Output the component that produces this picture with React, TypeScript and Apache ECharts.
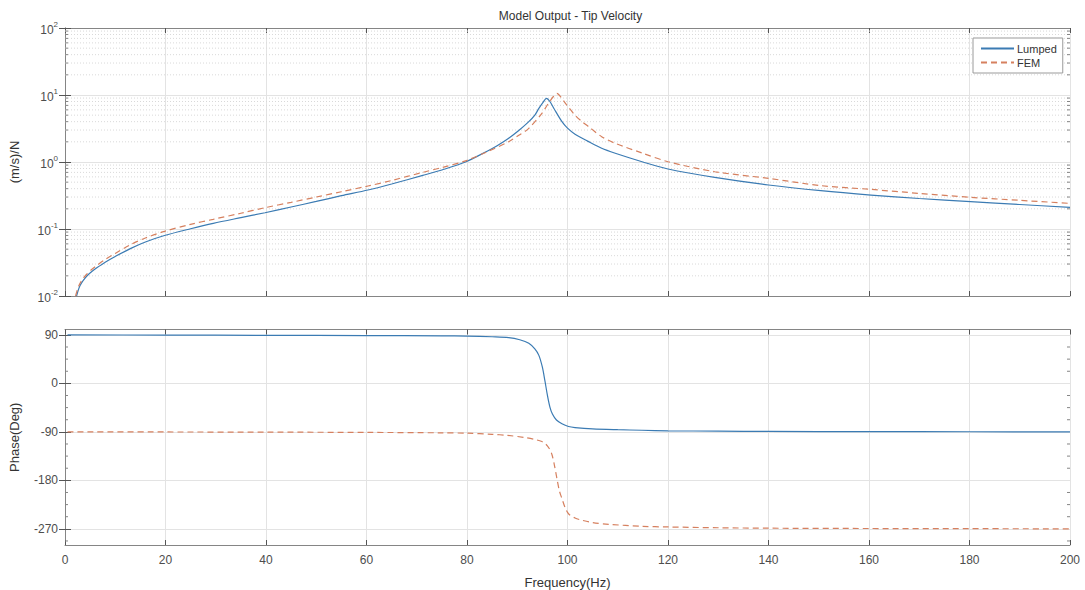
import React, { useEffect, useRef } from "react";
import * as echarts from "echarts";

// ---- Data ----
const lumpedMagFreq = [2.3, 2.6, 3.0, 3.6, 4.5, 5.4, 6.4, 8, 10, 13, 16, 19.8, 25, 29.5, 35, 39.8, 45, 50, 55, 60.3, 65, 71.2, 75, 79.7, 84, 86, 88.3, 90.3, 92.3, 93.5, 94.3, 95.2, 95.8, 96.5, 97.3, 98.9, 100, 101.5, 104, 106.8, 109.5, 115, 120, 129.3, 140, 150.4, 160.4, 170, 180.2, 190, 200];
const lumpedMag = [0.010, 0.012, 0.0143, 0.017, 0.0204, 0.0234, 0.0266, 0.032, 0.0389, 0.051, 0.064, 0.080, 0.101, 0.1216, 0.148, 0.175, 0.213, 0.258, 0.314, 0.382, 0.47, 0.63, 0.76, 1.0, 1.45, 1.75, 2.26, 2.95, 4.0, 5.0, 6.3, 7.9, 8.9, 8.0, 6.3, 4.0, 3.2, 2.6, 2.05, 1.6, 1.35, 1.0, 0.787, 0.59, 0.454, 0.373, 0.321, 0.285, 0.256, 0.232, 0.21];

const femMagFreq = [2.1, 2.4, 2.8, 3.4, 4.3, 5.3, 6.4, 8, 10, 13, 16, 19.8, 25, 29.5, 35, 39.8, 45, 50, 55, 60.3, 65, 71.2, 75.1, 79.7, 84, 88.3, 90.3, 92.3, 94.9, 96.2, 97.2, 97.9, 98.7, 99.6, 101.5, 102.9, 104.2, 106.8, 109.5, 115, 120, 129.3, 140, 150.4, 160.4, 170, 180.2, 190, 200];
const femMag = [0.010, 0.012, 0.0145, 0.0174, 0.0211, 0.0248, 0.0288, 0.0351, 0.0432, 0.0582, 0.0733, 0.0923, 0.1175, 0.1396, 0.172, 0.208, 0.25, 0.30, 0.36, 0.438, 0.53, 0.70, 0.83, 1.04, 1.42, 2.01, 2.5, 3.18, 5.33, 7.5, 9.5, 10.6, 9.3, 7.5, 5.0, 4.0, 3.37, 2.39, 1.9, 1.35, 1.01, 0.716, 0.57, 0.444, 0.39, 0.34, 0.297, 0.268, 0.241];

const lumpedPhaseFreq = [0.5, 20, 40, 60, 75, 80, 85, 88.3, 90.5, 92.3, 93.5, 94.3, 95.0, 95.5, 96.0, 96.5, 97.0, 97.8, 98.9, 100.2, 101.5, 105, 110, 114.8, 120, 130, 140, 160, 180, 200];
const lumpedPhase = [90, 89.6, 89.2, 88.8, 88.2, 87.8, 86.5, 85, 81, 74.5, 64, 52, 30, 5, -22, -44, -57, -68, -75, -80, -82, -84.5, -86, -87, -88, -88.7, -89.2, -89.6, -89.8, -90];

const femPhaseFreq = [0.5, 20, 40, 60, 75, 80, 85, 88, 91.6, 93.5, 94.9, 95.6, 96.3, 96.9, 97.4, 97.9, 98.4, 98.9, 99.5, 100.2, 101.5, 102.9, 105, 108.2, 114.8, 120, 130, 140, 160, 180, 200];
const femPhase = [-90, -90.2, -90.5, -91, -91.8, -92.5, -94.5, -96.5, -100.6, -104, -108, -112, -120, -132, -152, -177, -200, -214, -230, -242, -250, -254, -258.5, -261.6, -265.3, -266.5, -268, -268.8, -269.4, -269.7, -270];

const magMinorTicks = [0.02, 0.03, 0.04, 0.05, 0.06, 0.07, 0.08, 0.09, 0.2, 0.3, 0.4, 0.5, 0.6, 0.7, 0.8, 0.9, 2, 3, 4, 5, 6, 7, 8, 9, 20, 30, 40, 50, 60, 70, 80, 90];
const phaseTicks = [-270, -180, -90, 0, 90];
const phaseMinorTicks = [67.5, 45, 22.5, -22.5, -45, -67.5, -112.5, -135, -157.5, -202.5, -225, -247.5, -292.5];

const seriesNames = ["Lumped", "FEM"];

const zip = (xs: number[], ys: number[]) => xs.map((x, i) => [x, ys[i]]);

const FONT = "Liberation Sans, Arial, sans-serif";
const AXIS_COLOR = "#858585";
const LABEL_COLOR = "#4d4d4d";
const GRID_COLOR = "#e3e3e3";
const MINOR_GRID = "#d9d9d9";
const BLUE = "#3b7bb3";
const ORANGE = "#d6805f";

export default function App() {
  const ref = useRef<HTMLDivElement>(null);

  useEffect(() => {
    if (!ref.current) return;
    const chart = echarts.init(ref.current, undefined, { renderer: "svg" });

    const minorRender = (drawGrid: boolean) => (params: any, api: any) => {
      const cs = params.coordSys;
      const y = api.coord([0, api.value(1)])[1];
      const children: any[] = [];
      if (drawGrid) {
        children.push({
          type: "line",
          shape: { x1: cs.x, y1: y, x2: cs.x + cs.width, y2: y },
          style: { stroke: MINOR_GRID, lineWidth: 1, lineDash: [1, 2] },
        });
      }
      children.push({
        type: "line",
        shape: { x1: cs.x, y1: y, x2: cs.x + 3, y2: y },
        style: { stroke: AXIS_COLOR, lineWidth: 1 },
      });
      children.push({
        type: "line",
        shape: { x1: cs.x + cs.width - 3, y1: y, x2: cs.x + cs.width, y2: y },
        style: { stroke: AXIS_COLOR, lineWidth: 1 },
      });
      return { type: "group", children };
    };

    const xBase = (gridIndex: number, position: "top" | "bottom", labels: boolean, grid: boolean, name?: string) => ({
      type: "value",
      gridIndex,
      position,
      min: 0,
      max: 200,
      interval: 20,
      name,
      nameLocation: "middle",
      nameGap: 31,
      nameTextStyle: { fontFamily: FONT, fontSize: 13, color: "#333" },
      axisLine: { show: true, onZero: false, lineStyle: { color: AXIS_COLOR, width: 1 } },
      axisTick: { show: true, inside: true, length: 5, lineStyle: { color: "#555" } },
      axisLabel: { show: labels, fontFamily: FONT, fontSize: 12, color: LABEL_COLOR, margin: 9 },
      splitLine: { show: grid, lineStyle: { color: GRID_COLOR, width: 1 } },
    });

    const logLabel = (v: number) => {
      const e = Math.round(Math.log10(v));
      return `{b|10}{s|${e}}`;
    };

    const yLog = (position: "left" | "right", labels: boolean, grid: boolean) => ({
      type: "log",
      logBase: 10,
      gridIndex: 0,
      position,
      min: 0.01,
      max: 100,
      name: labels ? "(m/s)/N" : undefined,
      nameLocation: "middle",
      nameGap: 44,
      nameTextStyle: { fontFamily: FONT, fontSize: 13, color: "#333" },
      axisLine: { show: true, lineStyle: { color: AXIS_COLOR, width: 1 } },
      axisTick: { show: true, inside: true, length: 6, lineStyle: { color: "#555" } },
      axisLabel: {
        show: labels,
        margin: 7,
        formatter: logLabel,
        rich: {
          b: { fontFamily: FONT, fontSize: 12, color: LABEL_COLOR, lineHeight: 16, verticalAlign: "bottom" },
          s: { fontFamily: FONT, fontSize: 8, color: LABEL_COLOR, lineHeight: 16, verticalAlign: "top", padding: [0, 0, 6, 0] },
        },
      },
      splitLine: { show: grid, lineStyle: { color: GRID_COLOR, width: 1 } },
    });

    const yPhase = (position: "left" | "right", labels: boolean, grid: boolean) => ({
      type: "value",
      gridIndex: 1,
      position,
      min: -300,
      max: 100,
      name: labels ? "Phase(Deg)" : undefined,
      nameLocation: "middle",
      nameGap: 44,
      nameTextStyle: { fontFamily: FONT, fontSize: 13, color: "#333" },
      axisLine: { show: true, lineStyle: { color: AXIS_COLOR, width: 1 } },
      axisTick: { show: true, inside: true, length: 6, customValues: phaseTicks, lineStyle: { color: "#555" } },
      axisLabel: { show: labels, customValues: phaseTicks, fontFamily: FONT, fontSize: 12, color: LABEL_COLOR, margin: 7 },
      splitLine: { show: grid, lineStyle: { color: GRID_COLOR, width: 1 } },
    });

    const lineSeries = (name: string, xIdx: number, yIdx: number, data: number[][], color: string, dashed: boolean) => ({
      name,
      type: "line",
      xAxisIndex: xIdx,
      yAxisIndex: yIdx,
      data,
      smooth: 0.3,
      symbol: "none",
      showSymbol: false,
      z: 5,
      lineStyle: { color, width: 1.2, type: dashed ? [6, 4] : "solid" },
      itemStyle: { color },
    });

    const option: any = {
      animation: false,
      backgroundColor: "#ffffff",
      title: {
        text: "Model Output - Tip Velocity",
        left: 565.5,
        textAlign: "center",
        top: 5,
        textStyle: { fontFamily: FONT, fontSize: 12, fontWeight: "normal", color: "#333" },
      },
      legend: {
        data: seriesNames,
        orient: "vertical",
        left: 973,
        top: 38,
        padding: [5, 6, 5, 7],
        itemGap: 3,
        itemWidth: 33,
        itemHeight: 12,
        borderColor: "#9a9a9a",
        borderWidth: 1,
        backgroundColor: "#ffffff",
        itemStyle: { opacity: 0, borderWidth: 0 },
        textStyle: { fontFamily: FONT, fontSize: 11, color: "#333", padding: [0, 0, 0, -2] },
      },
      grid: [
        { left: 61, top: 28, width: 1009, height: 268 },
        { left: 61, top: 329.5, width: 1009, height: 217 },
      ],
      xAxis: [
        xBase(0, "bottom", false, true),
        xBase(0, "top", false, false),
        xBase(1, "bottom", true, true, "Frequency(Hz)"),
        xBase(1, "top", false, false),
      ],
      yAxis: [yLog("left", true, true), yLog("right", false, false), yPhase("left", true, true), yPhase("right", false, false)],
      series: [
        {
          name: "magMinor",
          type: "custom",
          xAxisIndex: 0,
          yAxisIndex: 0,
          z: 1,
          silent: true,
          data: magMinorTicks.map((v) => [0, v]),
          renderItem: minorRender(true),
        },
        {
          name: "phaseMinor",
          type: "custom",
          xAxisIndex: 2,
          yAxisIndex: 2,
          z: 1,
          silent: true,
          data: phaseMinorTicks.map((v) => [0, v]),
          renderItem: minorRender(false),
        },
        lineSeries("Lumped", 0, 0, zip(lumpedMagFreq, lumpedMag), BLUE, false),
        lineSeries("FEM", 0, 0, zip(femMagFreq, femMag), ORANGE, true),
        lineSeries("Lumped", 2, 2, zip(lumpedPhaseFreq, lumpedPhase), BLUE, false),
        lineSeries("FEM", 2, 2, zip(femPhaseFreq, femPhase), ORANGE, true),
      ],
    };

    chart.setOption(option);
    return () => chart.dispose();
  }, []);

  return (
    <div
      ref={ref}
      style={{ position: "fixed", left: 0, top: 0, width: 1085, height: 590, background: "#fff" }}
    />
  );
}
